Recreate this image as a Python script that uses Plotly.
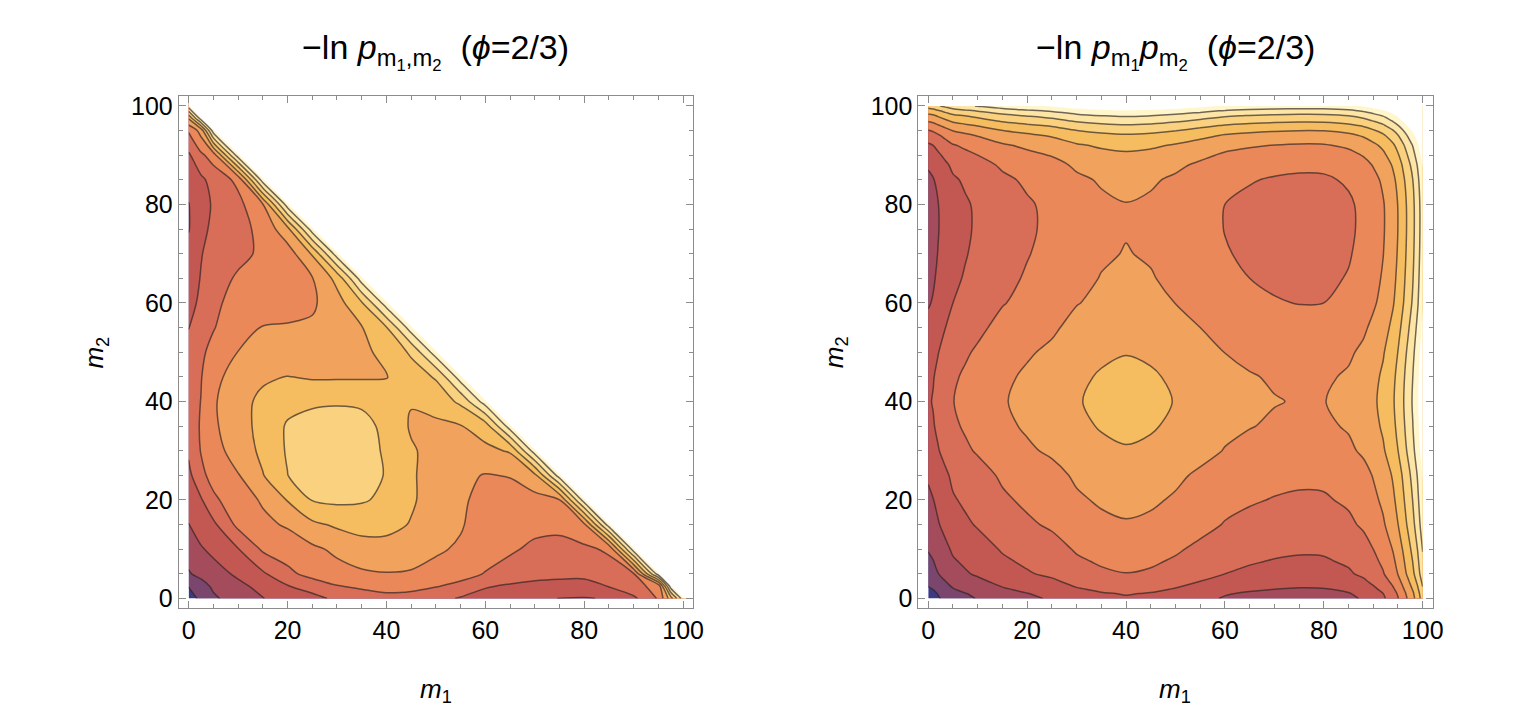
import plotly.graph_objects as go

W, H = 1516, 722
FONT = "Liberation Sans, Arial, sans-serif"

# grid of the joint distribution (left panel), same values on both axes
m_joint = [0, 2.5, 5, 10, 15, 20, 25, 30, 35, 40, 45, 50, 55, 60, 65, 70, 75, 80, 85, 90, 95, 97.5, 100]

# -ln p_{m1,m2} in contour-level units, one row per m2, only points with m1+m2 <= 100
joint_rows = [
    [0.0, 0.75, 1.35, 1.95, 2.48, 2.8, 3.2, 3.7, 4.05, 4.2, 4.1, 3.85, 3.4, 3.05, 2.8, 2.6, 2.49, 2.46, 2.55, 3.3, 4.6, 7.0, 10.0],
    [0.55, 1.15, 1.65, 2.3, 2.75, 3.45, 3.9, 4.45, 4.65, 4.85, 4.8, 4.55, 4.25, 3.6, 3.35, 3.15, 3.05, 3.0, 3.55, 4.2, 4.8, 10.0],
    [1.42, 1.75, 2.15, 2.65, 3.35, 4.25, 4.85, 5.15, 5.35, 5.45, 5.4, 5.15, 4.85, 4.45, 4.2, 3.95, 3.85, 3.85, 4.05, 4.4, 10.0],
    [1.9, 2.42, 2.7, 3.45, 4.65, 5.0, 5.3, 5.7, 6.1, 6.2, 6.0, 5.65, 5.35, 4.95, 4.6, 4.35, 4.25, 4.3, 4.65, 10.0],
    [2.48, 2.9, 3.3, 4.75, 5.3, 5.6, 6.3, 6.65, 6.85, 6.75, 6.45, 6.15, 5.6, 4.95, 4.8, 4.7, 4.7, 5.3, 10.0],
    [2.85, 3.4, 4.3, 5.1, 5.6, 6.55, 7.55, 7.7, 7.6, 7.3, 6.6, 6.15, 5.65, 5.2, 5.1, 5.15, 5.45, 10.0],
    [3.25, 4.25, 4.85, 5.45, 6.45, 7.48, 8.3, 8.4, 8.15, 7.4, 6.6, 6.15, 5.7, 5.45, 5.55, 6.25, 10.0],
    [3.65, 4.55, 5.2, 5.85, 6.75, 7.6, 8.4, 8.45, 8.1, 7.3, 6.6, 6.2, 5.95, 6.25, 6.6, 10.0],
    [3.9, 4.6, 5.35, 6.05, 6.85, 7.6, 8.1, 8.15, 7.9, 7.2, 6.4, 6.3, 6.45, 7.0, 10.0],
    [4.05, 4.52, 5.4, 6.05, 6.8, 7.2, 7.25, 7.35, 7.3, 7.0, 6.55, 6.9, 7.7, 10.0],
    [3.95, 4.45, 5.2, 5.95, 6.3, 6.52, 6.4, 6.4, 6.4, 6.45, 7.0, 7.6, 10.0],
    [3.75, 4.35, 4.75, 5.52, 5.8, 6.0, 6.1, 6.15, 6.3, 6.75, 7.65, 10.0],
    [3.48, 3.95, 4.45, 5.05, 5.55, 5.6, 5.65, 6.1, 6.45, 7.45, 10.0],
    [3.25, 3.65, 4.3, 4.85, 4.95, 5.05, 5.35, 6.1, 7.4, 10.0],
    [3.0, 3.55, 4.0, 4.65, 4.9, 5.05, 5.45, 6.8, 10.0],
    [2.8, 3.45, 3.85, 4.2, 4.7, 5.0, 6.6, 10.0],
    [2.45, 3.25, 3.7, 4.2, 4.75, 6.2, 10.0],
    [2.47, 3.15, 3.6, 4.2, 5.45, 10.0],
    [2.8, 3.3, 3.85, 4.75, 10.0],
    [3.35, 4.3, 4.95, 10.0],
    [4.6, 5.9, 10.0],
    [6.6, 10.0],
    [10.0],
]
OUTSIDE = 20.0  # m1+m2 > 100: above the last band, left white

# marginal -ln p_m (right panel uses -ln p_m1 - ln p_m2)
m_marg = [0, 1, 2, 3.5, 5, 7.5, 10, 15, 20, 25, 30, 35, 40, 45, 50, 55, 60, 65, 70, 75, 80,
          85, 88, 90, 92, 94, 95, 96, 97, 98, 99, 100]
neglnp_marg = [0.0, 0.15, 0.4, 0.75, 1.08, 1.32, 1.55, 2.03, 2.33, 2.6, 3.04, 3.28, 3.4, 3.3, 3.07, 2.75,
               2.42, 2.25, 2.13, 2.06, 2.08, 2.3, 2.6, 2.95, 3.35, 4.0, 4.45, 5.0, 5.6, 6.2, 7.0, 8.0]

band_colors = ["#3d3a85", "#7a466d", "#a54c5c", "#c35751", "#d86d58", "#ea885a",
               "#f1a25d", "#f6bc60", "#fad27f", "#fde5a5", "#fff6cc", "#ffffff"]

# left panel: pad one grid step past the frame so the outside region has no seam at m=100
m_left = m_joint + [105]
z_left = [row + [OUTSIDE] * (len(m_left) - len(row)) for row in joint_rows]
z_left.append([OUTSIDE] * len(m_left))
z_right = [[a + b for a in neglnp_marg] for b in neglnp_marg]

n = len(band_colors) - 1
colorscale = [[k / n, c] for k, c in enumerate(band_colors)]

fig = go.Figure()
panels = [(m_left, z_left, "x", "y"), (m_marg, z_right, "x2", "y2")]
for m, z, xa, ya in panels:
    fig.add_trace(go.Contour(
        x=m, y=m, z=z, xaxis=xa, yaxis=ya,
        colorscale=colorscale, showscale=False, hoverinfo="skip",
        contours=dict(start=0.5, end=10.5, size=1, coloring="fill", showlines=False),
        line=dict(width=0, smoothing=0.9),
    ))
    fig.add_trace(go.Contour(
        x=m, y=m, z=z, xaxis=xa, yaxis=ya,
        showscale=False, hoverinfo="skip",
        contours=dict(start=0.5, end=9.5, size=1, coloring="none"),
        line=dict(color="rgba(45,35,35,0.68)", width=1.5, smoothing=0.9),
    ))

frame_y = (85, 603)
frames_x = [(172, 690), (917, 1435)]
ydom = [(H - frame_y[1]) / H, (H - frame_y[0]) / H]

axis_style = dict(
    range=[-2, 102], tick0=0, dtick=20, ticks="inside", ticklen=7, tickwidth=1, tickcolor="#8c8c8c",
    showline=True, linecolor="#8c8c8c", linewidth=1, mirror="allticks",
    showgrid=False, zeroline=False,
    tickfont=dict(family=FONT, size=25, color="black"),
    minor=dict(tick0=0, dtick=5, ticks="inside", ticklen=4, tickwidth=1, tickcolor="#8c8c8c", showgrid=False),
)

fig.update_layout(
    width=W, height=H, margin=dict(l=0, r=0, t=0, b=0),
    paper_bgcolor="white", plot_bgcolor="white", showlegend=False,
    xaxis=dict(axis_style, domain=[frames_x[0][0] / W, frames_x[0][1] / W], anchor="y"),
    yaxis=dict(axis_style, domain=ydom, anchor="x"),
    xaxis2=dict(axis_style, domain=[frames_x[1][0] / W, frames_x[1][1] / W], anchor="y2"),
    yaxis2=dict(axis_style, domain=ydom, anchor="x2"),
)

titles = ["\u2212ln <i>p</i><sub>m<sub>1</sub>,m<sub>2</sub></sub>&nbsp; (<i>\u03d5</i>=2/3)",
          "\u2212ln <i>p</i><sub>m<sub>1</sub></sub><i>p</i><sub>m<sub>2</sub></sub>&nbsp; (<i>\u03d5</i>=2/3)"]
for (x0, x1), title in zip(frames_x, titles):
    cx = (x0 + x1) / 2
    fig.add_annotation(x=cx / W, y=1 - 40 / H, xref="paper", yref="paper", text=title, showarrow=False,
                       xanchor="center", yanchor="middle", font=dict(family=FONT, size=34, color="black"))
    fig.add_annotation(x=cx / W, y=1 - 686 / H, xref="paper", yref="paper", text="<i>m</i><sub>1</sub>",
                       showarrow=False, xanchor="center", yanchor="middle",
                       font=dict(family=FONT, size=26, color="black"))
    fig.add_annotation(x=(x0 - 84) / W, y=1 - 344 / H, xref="paper", yref="paper", text="<i>m</i><sub>2</sub>",
                       showarrow=False, textangle=-90, xanchor="center", yanchor="middle",
                       font=dict(family=FONT, size=26, color="black"))

fig.write_html("out.html")
